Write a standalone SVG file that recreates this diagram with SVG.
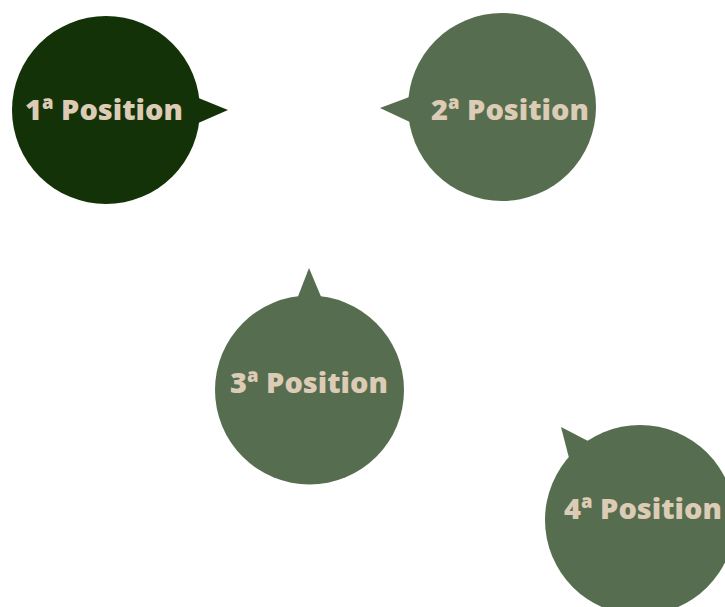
<svg xmlns="http://www.w3.org/2000/svg" width="725" height="607" viewBox="0 0 725 607">
<style>
.dark{fill:#143208}
.mid{fill:#566e4f}
.lbl{font-family:"Open Sans","DejaVu Sans",sans-serif;font-weight:800;font-size:29px;fill:#dccbb5;text-anchor:middle}
</style>
<rect width="725" height="607" fill="#ffffff"/>
<g id="node1">
<circle class="dark" cx="106" cy="110" r="94"/>
<polygon class="dark" points="196,97 228,110 196,124"/>
<text class="lbl" x="104" y="120">1ª Position</text>
</g>
<g id="node2">
<circle class="mid" cx="502" cy="107" r="94"/>
<polygon class="mid" points="412,96 380,108 412,123"/>
<text class="lbl" x="510" y="120">2ª Position</text>
</g>
<g id="node3">
<circle class="mid" cx="309.5" cy="390" r="94.5"/>
<polygon class="mid" points="297,299 309,268 322,299"/>
<text class="lbl" x="309" y="393">3ª Position</text>
</g>
<g id="node4">
<circle class="mid" cx="640" cy="520" r="95"/>
<polygon class="mid" points="590,442 561,427 569,458"/>
<text class="lbl" x="643" y="519">4ª Position</text>
</g>
<g id="connectors"></g>
</svg>
